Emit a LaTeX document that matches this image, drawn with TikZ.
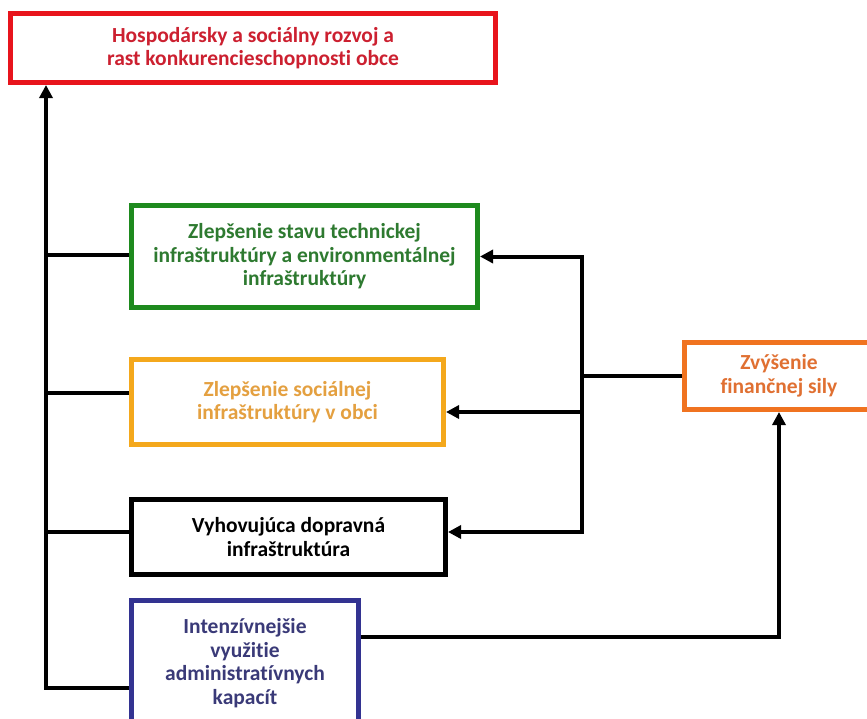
\documentclass[tikz,border=0pt]{standalone}
\usepackage{fontspec}
\setmainfont{Carlito}[Ligatures={NoCommon}]
\usetikzlibrary{arrows.meta,positioning,calc}
\definecolor{goalred}{HTML}{E8141C}
\definecolor{goaltext}{HTML}{CC2030}
\definecolor{techgreen}{HTML}{1E8A1E}
\definecolor{techtext}{HTML}{2E7A30}
\definecolor{socialyellow}{HTML}{F4A81C}
\definecolor{socialtext}{HTML}{E4A040}
\definecolor{adminblue}{HTML}{333391}
\definecolor{admintext}{HTML}{3A3A78}
\definecolor{financeorange}{HTML}{F07320}
\definecolor{financetext}{HTML}{E07032}
\tikzset{
    >={Triangle[length=13pt,width=13pt]},
    goalbox/.style={
        rectangle,
        draw,
        line width=5pt,
        inner sep=0pt,
        align=center,
        font={\bfseries\fontsize{21.5pt}{23.5pt}\selectfont}
    },
    link/.style={draw, line width=4pt},
}
\begin{document}
\begin{tikzpicture}[x=1pt, y=-1pt]
\useasboundingbox (0,0) rectangle (867,718);
\clip (0,0) rectangle (867,718);
\fill[white] (0,0) rectangle (867,718);

\node [goalbox, draw=goalred, text=goaltext, minimum width=485pt, minimum height=69pt]
  (goal) at (253,48) {Hospodársky a sociálny rozvoj a\\rast konkurencieschopnosti obce};
\node [goalbox, draw=techgreen, text=techtext, minimum width=346pt, minimum height=102pt]
  (tech) at (304.5,256.5) {Zlepšenie stavu technickej\\infraštruktúry a environmentálnej\\infraštruktúry};
\node [goalbox, draw=socialyellow, text=socialtext, minimum width=312pt, minimum height=85pt]
  (social) at (287.5,402) {Zlepšenie sociálnej\\infraštruktúry v obci};
\node [goalbox, draw=black, text=black, minimum width=314pt, minimum height=75pt]
  (transport) at (288.5,537) {Vyhovujúca dopravná\\infraštruktúra};
\node [goalbox, draw=adminblue, text=admintext, minimum width=227pt, minimum height=125pt]
  (admin) at (245,663) {Intenzívnejšie\\využitie\\administratívnych\\kapacít};
\node [goalbox, draw=financeorange, text=financetext, minimum width=189pt, minimum height=67pt]
  (finance) at (779,376) {Zvýšenie\\finančnej sily};

\draw [link, ->] (admin.west |- 0,688) -| (goal.south -| 46,0);
\foreach \n/\y in {tech/255, social/393, transport/532}
  \draw [link] (46,\y) -- (\n.west |- 0,\y);

\coordinate (rbus) at (582,376);
\draw [link] (finance.west) -- (rbus);
\draw [link, ->] (rbus) |- (tech.east);
\draw [link, ->] (rbus) |- (social.east |- 0,412);
\draw [link, ->] (rbus) |- (transport.east |- 0,532);

\draw [link, ->] (admin.east |- 0,637) -| (finance.south);

\end{tikzpicture}
\end{document}
